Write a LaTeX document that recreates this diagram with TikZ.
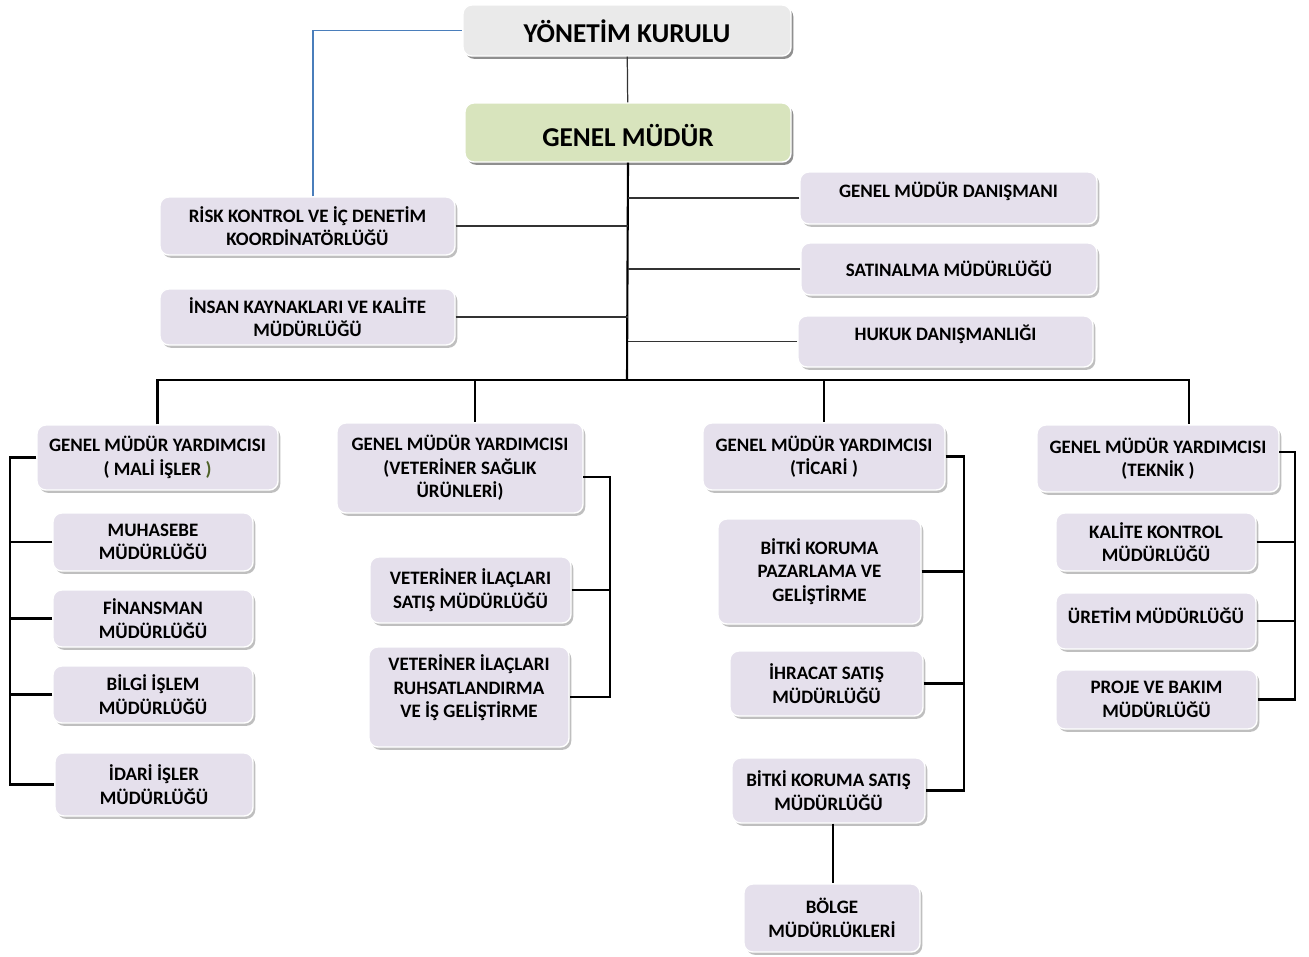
\documentclass[tikz,border=0pt]{standalone}
\usepackage{fontspec}
\setmainfont{Carlito}
\usetikzlibrary{shadows}
\definecolor{lav}{HTML}{E5E0EC}
\definecolor{ykgray}{HTML}{EAEAEA}
\definecolor{gmgreen}{HTML}{D8E4BD}
\definecolor{blueln}{HTML}{4A7EBB}
\definecolor{olivegr}{HTML}{4F6228}
\tikzset{
  box/.style={draw=white, line width=0.8pt, rounded corners=5pt, fill=lav,
    drop shadow={shadow xshift=1.3pt, shadow yshift=-1.6pt, fill=black, opacity=0.25},
    inner sep=0pt, align=center, font=\bfseries\fontsize{10.8}{13.4}\selectfont},
  bigbox/.style={box, font=\bfseries\fontsize{15.5}{18}\selectfont},
  thick line/.style={draw=black, line width=1.2pt},
  thin line/.style={draw=black!80, line width=0.7pt},
  blue line/.style={draw=blueln, line width=0.6pt}
}
% [style]{x1}{y1}{x2}{y2}{name}{text}
\newcommand\orgbox[7][]{%
  \node[box,#1,minimum width={(#4-#2)*0.02cm},minimum height={(#5-#3)*0.02cm}]
    (#6) at ({(#2+#4)/2},{(#3+#5)/2}) {#7};}
% text shifted by #1 (up) from the box centre
\newcommand\shft[2]{\raisebox{\dimexpr#1-0.322em\relax}[0pt][0pt]{#2}}
\begin{document}
\begin{tikzpicture}[x=0.02cm,y=-0.02cm]
\useasboundingbox[fill=white] (0,0) rectangle (1309,957);
% top
\orgbox[bigbox, fill=ykgray]{463}{5}{791}{56}{yk}{\shft{-2pt}{YÖNETİM KURULU}}
\orgbox[bigbox, fill=gmgreen]{465}{103}{791}{162}{gm}{\shft{-3.1pt}{GENEL MÜDÜR}}
% staff
\orgbox{800}{172}{1097}{224}{gmd}{\shft{4pt}{GENEL MÜDÜR DANIŞMANI}}
\orgbox{801}{243}{1097}{295}{sat}{SATINALMA MÜDÜRLÜĞÜ}
\orgbox{798}{316}{1093}{367}{huk}{\shft{4.2pt}{HUKUK DANIŞMANLIĞI}}
\orgbox{160}{197}{455}{255}{risk}{RİSK KONTROL VE İÇ DENETİM\\KOORDİNATÖRLÜĞÜ}
\orgbox{160}{289}{455}{345}{ik}{İNSAN KAYNAKLARI VE KALİTE\\MÜDÜRLÜĞÜ}
% GMY
\orgbox{37}{425}{278}{490}{mali}{GENEL MÜDÜR YARDIMCISI\\( MALİ İŞLER {\color{olivegr})}}
\orgbox{337}{423}{583}{513}{vet}{GENEL MÜDÜR YARDIMCISI\\(VETERİNER SAĞLIK\\ÜRÜNLERİ)}
\orgbox{703}{423}{945}{490}{tic}{GENEL MÜDÜR YARDIMCISI\\(TİCARİ )}
\orgbox{1037}{425}{1279}{492}{tek}{GENEL MÜDÜR YARDIMCISI\\(TEKNİK )}
% mali column
\orgbox{53}{513}{253}{571}{muh}{MUHASEBE\\MÜDÜRLÜĞÜ}
\orgbox{53}{590}{253}{647}{fin}{FİNANSMAN\\MÜDÜRLÜĞÜ}
\orgbox{53}{666}{253}{723}{bil}{BİLGİ İŞLEM\\MÜDÜRLÜĞÜ}
\orgbox{55}{753}{253}{816}{ida}{İDARİ İŞLER\\MÜDÜRLÜĞÜ}
% vet column
\orgbox{370}{557}{571}{623}{vs}{VETERİNER İLAÇLARI\\SATIŞ MÜDÜRLÜĞÜ}
\orgbox{369}{647}{569}{747}{vr}{\shft{5pt}{\begin{tabular}{@{}c@{}}VETERİNER İLAÇLARI\\RUHSATLANDIRMA\\VE İŞ GELİŞTİRME\end{tabular}}}
% ticari column
\orgbox{718}{519}{921}{624}{bkp}{BİTKİ KORUMA\\PAZARLAMA VE\\GELİŞTİRME}
\orgbox{730}{651}{923}{716}{ihr}{İHRACAT SATIŞ\\MÜDÜRLÜĞÜ}
\orgbox{732}{758}{925}{823}{bks}{BİTKİ KORUMA SATIŞ\\MÜDÜRLÜĞÜ}
\orgbox{744}{884}{920}{952}{bol}{BÖLGE\\MÜDÜRLÜKLERİ}
% teknik column
\orgbox{1056}{513}{1256}{571}{kal}{KALİTE KONTROL\\MÜDÜRLÜĞÜ}
\orgbox{1056}{593}{1256}{649}{ure}{\shft{2.3pt}{ÜRETİM MÜDÜRLÜĞÜ}}
\orgbox{1056}{670}{1257}{729}{pro}{PROJE VE BAKIM\\MÜDÜRLÜĞÜ}

% helper coordinates
\coordinate (bus) at (627,380);
\coordinate (d2) at (475,380);
\coordinate (d4) at (1189,380);
\coordinate (bx) at (313,0);
\coordinate (lx) at (10,0);
\coordinate (vx) at (610,0);
\coordinate (vt) at (583,477);
\coordinate (tx) at (964,0);
\coordinate (kx) at (1295,0);
\coordinate (tk) at (1279,452);
\coordinate (bl) at (833,0);

% connectors
\draw[thin line] (yk) -- (gm);
\draw[blue line] (risk.north -| bx) |- (yk.west);
\draw[thick line] (gm.south) -- (bus);
\draw[thin line] (gmd.west) -- (gmd.west -| gm.south);
\draw[thin line] (sat.west) -- (sat.west -| gm.south);
\draw[thin line] (huk.west) -- (huk.west -| gm.south);
\draw[thin line] (risk.east) -- (risk.east -| gm.south);
\draw[thin line] (ik.east) -- (ik.east -| gm.south);
% bus
\draw[thick line] (mali.north) -- (mali.north |- bus) -- (d4) -- (d4 |- tek.north);
\draw[thick line] (d2) -- (d2 |- vet.north);
\draw[thick line] (tic.north |- bus) -- (tic.north);
% mali bracket
\draw[thick line] (mali.west) -- (mali.west -| lx) |- (ida.west);
\draw[thick line] (muh.west) -- (muh.west -| lx);
\draw[thick line] (fin.west) -- (fin.west -| lx);
\draw[thick line] (bil.west) -- (bil.west -| lx);
% vet bracket
\draw[thick line] (vt) -- (vt -| vx) |- (vr.east);
\draw[thick line] (vs.east) -- (vs.east -| vx);
% ticari bracket
\draw[thick line] (tic.east) -- (tic.east -| tx) |- (bks.east);
\draw[thick line] (bkp.east) -- (bkp.east -| tx);
\draw[thick line] (ihr.east) -- (ihr.east -| tx);
\draw[thick line] (bks.south -| bl) -- (bol.north -| bl);
% teknik bracket
\draw[thick line] (tk) -- (tk -| kx) |- (pro.east);
\draw[thick line] (kal.east) -- (kal.east -| kx);
\draw[thick line] (ure.east) -- (ure.east -| kx);
\end{tikzpicture}
\end{document}
